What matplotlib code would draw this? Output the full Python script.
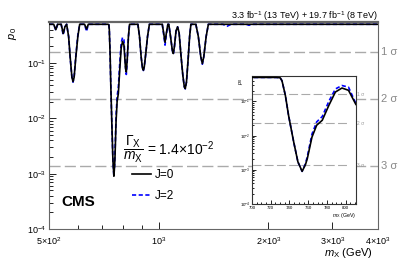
import matplotlib
matplotlib.use('Agg')
import matplotlib.pyplot as plt
from matplotlib.ticker import (FixedLocator, FixedFormatter, LogLocator,
                               MultipleLocator, NullFormatter)

plt.rcParams['font.family'] = ['Liberation Sans', 'DejaVu Sans']
plt.rcParams['mathtext.fontset'] = 'custom'
plt.rcParams['mathtext.rm'] = 'Liberation Sans'
plt.rcParams['mathtext.it'] = 'Liberation Sans:italic'
plt.rcParams['mathtext.bf'] = 'Liberation Sans:bold'

W, H = 407, 260

# local p-value vs m_X
mass_j0 = [500, 515, 522, 528, 540, 547, 553, 559,
           566, 572, 578, 582, 586, 592, 600, 607,
           626, 634, 641, 726, 730, 732, 735.6, 739, 744.5, 749, 753.5, 757,
           759, 764, 769, 775, 782, 789, 796, 803, 811, 815, 820, 826, 832,
           877, 886, 895, 903, 908, 913, 922, 932, 943,
           1023, 1032, 1041, 1050, 1060, 1066, 1078, 1090, 1097, 1105, 1116,
           1127, 1138, 1150, 1165, 1176, 1183, 1192, 1205, 1216, 1226,
           1265, 1285, 1305, 1318, 1330, 1350, 1369, 4000]
p0_j0 = [0.5, 0.5, 0.40, 0.5, 0.5, 0.34, 0.45, 0.5,
         0.3, 0.12, 0.055, 0.046, 0.055, 0.12, 0.3, 0.5,
         0.5, 0.41, 0.5, 0.5, 0.49, 0.4, 0.15, 0.039, 0.0065, 0.0017, 0.0009, 0.0014,
         0.0021, 0.009, 0.02, 0.028, 0.076, 0.187, 0.245, 0.21, 0.08, 0.069, 0.12, 0.3, 0.5,
         0.5, 0.3, 0.13, 0.08, 0.074, 0.085, 0.15, 0.3, 0.5,
         0.5, 0.35, 0.236, 0.35, 0.5, 0.5, 0.3, 0.17, 0.148, 0.2, 0.38,
         0.45, 0.35, 0.15, 0.06, 0.037, 0.0345, 0.045, 0.12, 0.3, 0.5,
         0.5, 0.3, 0.13, 0.0975, 0.13, 0.3, 0.5, 0.5]

mass_j2 = [500, 515, 522, 528, 540, 547, 553, 559,
           566, 572, 578, 582, 586, 592, 600, 607,
           626, 634, 641, 726, 730, 732, 735.6, 739, 744.5, 749, 753.5, 757,
           759, 764, 769, 775, 782, 789, 796, 803, 811, 815, 820, 826, 832,
           877, 886, 895, 903, 908, 913, 922, 932, 943,
           1023, 1032, 1041, 1050, 1060, 1066, 1078, 1090, 1097, 1105, 1116,
           1127, 1138, 1150, 1165, 1176, 1183, 1192, 1205, 1216, 1226,
           1265, 1285, 1305, 1318, 1330, 1350, 1369, 1500, 1540, 1580, 1740, 1770, 1800, 4000]
p0_j2 = [0.5, 0.5, 0.39, 0.5, 0.5, 0.32, 0.45, 0.5,
         0.3, 0.12, 0.054, 0.045, 0.055, 0.13, 0.32, 0.5,
         0.5, 0.37, 0.5, 0.5, 0.49, 0.4, 0.15, 0.039, 0.0065, 0.0017, 0.0009, 0.0015,
         0.0024, 0.011, 0.025, 0.036, 0.1, 0.23, 0.29, 0.26, 0.085, 0.062, 0.11, 0.3, 0.5,
         0.5, 0.3, 0.13, 0.08, 0.073, 0.085, 0.15, 0.3, 0.5,
         0.5, 0.33, 0.21, 0.33, 0.5, 0.5, 0.3, 0.17, 0.145, 0.2, 0.38,
         0.45, 0.35, 0.15, 0.06, 0.037, 0.034, 0.045, 0.12, 0.3, 0.5,
         0.5, 0.3, 0.13, 0.095, 0.13, 0.3, 0.5, 0.5, 0.46, 0.5, 0.5, 0.48, 0.5, 0.5]

sigma_names = ['1 σ', '2 σ', '3 σ']
sigma_p0 = [0.1587, 0.02275, 0.00135]

xticks_main = [500, 1000, 2000, 3000, 4000]
xlabels_main = [r'$5{\times}10^{2}$', r'$10^{3}$', r'$2{\times}10^{3}$',
                r'$3{\times}10^{3}$', r'$4{\times}10^{3}$']
xminor_main = [600, 700, 800, 900]

GRAY = '#aaaaaa'
FRAME = '#666666'


def px_rect(left, top, right, bottom):
    return [left / W, 1 - bottom / H, (right - left) / W, (bottom - top) / H]


def style_axes(ax, size, major, minor):
    ax.tick_params(which='both', direction='in', top=False, right=False,
                   labelsize=size, pad=2, colors='black', width=0.6)
    ax.tick_params(which='major', length=major)
    ax.tick_params(which='minor', length=minor)
    for s in ax.spines.values():
        s.set_color(FRAME)
        s.set_linewidth(0.8)


fig = plt.figure(figsize=(W / 100, H / 100), dpi=100)

# main panel
ax = fig.add_axes(px_rect(49, 22, 378, 229))
ax.set_xscale('log')
ax.set_yscale('log')
ax.set_xlim(500, 4000)
ax.set_ylim(1e-4, 0.55)

for p, name in zip(sigma_p0, sigma_names):
    ax.axhline(p, color=GRAY, lw=1.0, dashes=(8, 3), zorder=1)
    ax.text(1.008, p, name, transform=ax.get_yaxis_transform(),
            va='center', ha='left', fontsize=8, color='#888888')

ax.plot(mass_j2, p0_j2, color='blue', lw=1.2, dashes=(2.5, 1.5), zorder=2)
ax.plot(mass_j0, p0_j0, color='black', lw=1.2, zorder=3)

ax.xaxis.set_major_locator(FixedLocator(xticks_main))
ax.xaxis.set_major_formatter(FixedFormatter(xlabels_main))
ax.xaxis.set_minor_locator(FixedLocator(xminor_main))
ax.xaxis.set_minor_formatter(NullFormatter())
ax.yaxis.set_major_locator(LogLocator(base=10, numticks=10))
ax.yaxis.set_minor_locator(LogLocator(base=10, subs=range(2, 10), numticks=20))
ax.yaxis.set_minor_formatter(NullFormatter())
style_axes(ax, 6.5, 5, 2.8)
ax.tick_params(axis='x', pad=4.5)
ax.spines['top'].set_linewidth(1.6)

fig.text(13 / W, 1 - 33 / H, r'$p_{\,0}$', rotation=90, fontsize=8,
         ha='center', va='center')
fig.text(373 / W, 1 - 253 / H, r'$m_{\rm X}$ (GeV)', fontsize=8,
         ha='right', va='center')
fig.text(378 / W, 1 - 16 / H,
         r'3.3 fb$^{-1}$ (13 TeV) + 19.7 fb$^{-1}$ (8 TeV)',
         fontsize=6.5, ha='right', va='center')
fig.text(61 / W, 1 - 202 / H, 'CMS', fontsize=11, fontweight='bold',
         ha='left', va='center')
fig.text(123 / W, 1 - 149 / H,
         r'$\dfrac{\mathit{\Gamma}_{\rm X}}{m_{\rm X}}$ = 1.4$\times$10$^{-2}$',
         fontsize=10, ha='left', va='center')

leg = ax.legend([ax.lines[-1], ax.lines[-2]], ['J=0', 'J=2'], frameon=False,
                fontsize=8.5, handlelength=1.6, handletextpad=0.35,
                labelspacing=0.75, borderpad=0, loc='upper left',
                bbox_to_anchor=(126 / W, 1 - 163 / H),
                bbox_transform=fig.transFigure)

# zoomed inset around 750 GeV
ins = fig.add_axes(px_rect(252, 76, 356, 204))
ins.set_yscale('log')
ins.set_xlim(700, 811)
ins.set_ylim(1e-4, 0.55)
for p, name in zip(sigma_p0, sigma_names):
    ins.plot([700, 801], [p, p], color=GRAY, lw=0.8, dashes=(8, 3), zorder=1)
    ins.text(1.01, p, name, transform=ins.get_yaxis_transform(),
             va='center', ha='left', fontsize=3.5, color='#999999')
ins.plot(mass_j2, p0_j2, color='blue', lw=1.2, dashes=(2.5, 1.5), zorder=2)
ins.plot(mass_j0, p0_j0, color='black', lw=1.2, zorder=3)
ins.xaxis.set_major_locator(MultipleLocator(20))
ins.xaxis.set_minor_locator(MultipleLocator(5))
ins.yaxis.set_major_locator(LogLocator(base=10, numticks=10))
ins.yaxis.set_minor_locator(LogLocator(base=10, subs=range(2, 10), numticks=20))
ins.yaxis.set_minor_formatter(NullFormatter())
style_axes(ins, 3.2, 3, 1.6)
for s in ins.spines.values():
    s.set_color('#333333')
ins.tick_params(pad=1.5)

fig.text(241 / W, 1 - 81 / H, r'$p_{\,0}$', rotation=90, fontsize=4,
         ha='center', va='center')
fig.text(356 / W, 1 - 216 / H, r'$m_{\rm X}$ (GeV)', fontsize=3.8,
         ha='right', va='center')

fig.savefig('out.png', dpi=100)
